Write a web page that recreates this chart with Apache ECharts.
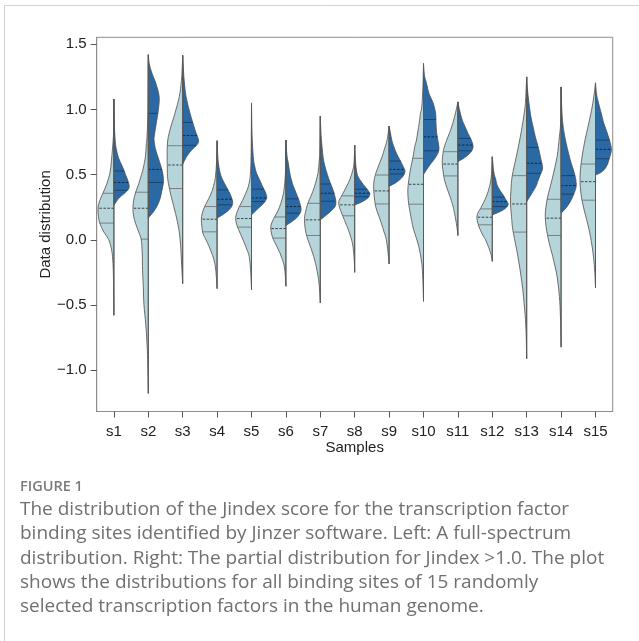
<!DOCTYPE html>
<html>
<head>
<meta charset="utf-8">
<script src="https://cdn.jsdelivr.net/npm/echarts@6.0.0/dist/echarts.min.js"></script>
<style>
html,body{margin:0;padding:0;background:#fff;}
#main{width:639px;height:641px;}
</style>
</head>
<body>
<div id="main"></div>
<script>
// ---------------- DATA ----------------
const categories = ['s1','s2','s3','s4','s5','s6','s7','s8','s9','s10','s11','s12','s13','s14','s15'];
const yTicks = [-1.0, -0.5, 0.0, 0.5, 1.0, 1.5];

// Left half: full-spectrum distribution. Profile of [value, relative density], top to bottom.
const leftDensity = [
  [[1.08,0],[0.85,0.3],[0.765,0.7],[0.69,1.5],[0.6,2.5],[0.51,4],[0.43,7],[0.36,10.7],[0.3,14],[0.245,15.7],[0.18,15.3],[0.128,14],[0.06,10],[0,5],[-0.077,2.3],[-0.15,1.2],[-0.27,0.5],[-0.58,0]],
  [[1.42,0],[1.0,0.3],[0.8,1.2],[0.73,2],[0.64,2.8],[0.55,5],[0.5,6.7],[0.43,9.5],[0.36,12.7],[0.3,14.5],[0.24,15.2],[0.18,14.5],[0.128,12.7],[0.06,9.5],[0,7],[-0.1,6],[-0.23,5.7],[-0.35,5],[-0.5,4.3],[-0.65,2.5],[-0.84,1],[-1.0,0.4],[-1.18,0]],
  [[1.415,0],[1.3,0.6],[1.22,1.3],[1.1,3.3],[0.97,7.7],[0.84,12.7],[0.75,15],[0.65,15.4],[0.55,15.2],[0.46,14.7],[0.33,11.3],[0.2,7],[0.077,3.7],[-0.05,2],[-0.2,1],[-0.337,0]],
  [[0.76,0],[0.6,0.5],[0.48,1.7],[0.43,3],[0.38,4.7],[0.32,8],[0.255,12.3],[0.2,14.8],[0.153,15.6],[0.1,15],[0.05,14],[0,11],[-0.05,8],[-0.12,4.5],[-0.18,2.3],[-0.26,1],[-0.375,0]],
  [[1.05,0],[0.7,0.3],[0.55,0.8],[0.46,1.7],[0.4,3.5],[0.357,5.7],[0.3,9],[0.25,12.3],[0.2,14.8],[0.166,15.7],[0.12,14.8],[0.077,12.7],[0.02,9.5],[-0.026,7],[-0.08,4.3],[-0.128,2.3],[-0.22,1],[-0.383,0]],
  [[0.765,0],[0.55,0.3],[0.45,1],[0.36,2.3],[0.28,5],[0.22,8],[0.178,11],[0.13,14],[0.09,15],[0.04,14],[0,12.3],[-0.05,9],[-0.1,6],[-0.15,3.5],[-0.2,1.7],[-0.27,0.6],[-0.357,0]],
  [[0.949,0],[0.7,0.4],[0.61,1],[0.51,2.3],[0.41,5.7],[0.34,9],[0.28,12.3],[0.2,15],[0.153,15.6],[0.09,15],[0.026,13.3],[-0.077,8.7],[-0.18,4.7],[-0.306,1.7],[-0.4,0.6],[-0.485,0]],
  [[0.727,0],[0.6,0.6],[0.54,1.7],[0.46,5],[0.38,10],[0.337,13],[0.293,15.7],[0.25,15],[0.18,11.7],[0.12,8.5],[0.077,6.3],[0.01,3.5],[-0.05,1.7],[-0.15,0.5],[-0.25,0]],
  [[0.872,0],[0.765,2],[0.7,4.5],[0.637,7],[0.536,12],[0.47,14.5],[0.408,15.3],[0.34,14.8],[0.255,13.3],[0.19,10.5],[0.128,7.7],[0.06,5],[0,2.7],[-0.1,1],[-0.186,0]],
  [[1.352,0],[1.15,0.7],[1.02,1.7],[0.97,3],[0.893,4.3],[0.765,7],[0.714,8.7],[0.637,10.3],[0.536,13],[0.46,14.5],[0.383,15.5],[0.3,15],[0.23,13.7],[0.15,11.8],[0.077,9.7],[-0.05,4.7],[-0.18,1.7],[-0.3,0.7],[-0.472,0]],
  [[1.058,0],[0.943,3.3],[0.84,7.3],[0.74,12.3],[0.676,14.5],[0.587,15.5],[0.52,14.5],[0.46,13.3],[0.39,10.5],[0.33,7.7],[0.27,5.3],[0.204,3.3],[0.1,1],[0.033,0]],
  [[0.637,0],[0.5,0.8],[0.41,2.7],[0.33,6],[0.25,11],[0.21,14],[0.171,15.3],[0.12,14],[0.077,12],[0.03,9],[0,6.7],[-0.077,2.7],[-0.12,1],[-0.166,0]],
  [[1.25,0],[1.15,0.6],[1.046,1.3],[0.943,3],[0.79,6.3],[0.637,10.3],[0.49,14.3],[0.38,15.6],[0.28,16],[0.18,15],[0.077,13.7],[-0.128,8.7],[-0.33,4.7],[-0.535,2],[-0.69,0.7],[-0.913,0]],
  [[1.173,0],[0.9,0.5],[0.79,1.7],[0.637,4],[0.484,8.3],[0.4,11],[0.33,13.3],[0.25,15],[0.178,15.7],[0.1,14.8],[0.03,13.3],[-0.05,11],[-0.128,8.3],[-0.28,4],[-0.434,1.7],[-0.6,0.6],[-0.824,0]],
  [[1.204,0],[1.12,1.3],[1.02,3.3],[0.893,6.7],[0.74,11],[0.58,14.3],[0.446,15.3],[0.3,13.3],[0.153,8.7],[0.026,5],[-0.128,2],[-0.25,0.7],[-0.37,0]]
];

// Right half: partial distribution (Jindex > 1.0). Profile of [value, relative density], top to bottom.
const rightDensity = [
  [[1.08,0],[0.9,0.4],[0.77,1.2],[0.7,2.3],[0.63,4.5],[0.56,8.5],[0.5,11.5],[0.45,14],[0.4,15],[0.36,11],[0.32,5],[0.265,0]],
  [[1.42,0],[1.35,1],[1.28,3.5],[1.2,7.5],[1.1,10.7],[1.0,10],[0.9,8],[0.8,6],[0.765,5.7],[0.7,7],[0.6,11],[0.52,14],[0.45,15],[0.38,13.5],[0.3,11],[0.23,6.5],[0.166,0]],
  [[1.415,0],[1.3,0.8],[1.22,1.5],[1.1,3.3],[0.97,7.3],[0.84,12.3],[0.76,15.7],[0.72,13],[0.69,9],[0.64,4],[0.58,0]],
  [[0.76,0],[0.65,0.6],[0.587,1.3],[0.53,2.5],[0.48,4.3],[0.43,7.5],[0.38,11],[0.33,14],[0.28,15.4],[0.24,13],[0.2,7],[0.166,0]],
  [[1.05,0],[0.8,0.6],[0.64,1.7],[0.57,3],[0.51,5],[0.46,8],[0.408,11],[0.36,14],[0.32,15],[0.28,12],[0.24,6.5],[0.19,0]],
  [[0.765,0],[0.65,1],[0.59,2.3],[0.53,3.5],[0.48,4.7],[0.43,6.5],[0.38,9],[0.3,13],[0.23,15],[0.18,12],[0.14,6],[0.11,0]],
  [[0.949,0],[0.8,0.8],[0.69,2],[0.62,3],[0.56,4.7],[0.5,7],[0.434,10],[0.36,13.5],[0.268,15.3],[0.21,9],[0.153,0]],
  [[0.727,0],[0.6,0.8],[0.53,1.8],[0.484,3.3],[0.44,7],[0.41,10],[0.37,14],[0.35,15],[0.32,13],[0.29,7],[0.268,0]],
  [[0.872,0],[0.82,1.3],[0.76,2.8],[0.714,4.7],[0.66,7.5],[0.612,10.7],[0.56,14],[0.523,15.7],[0.48,13],[0.44,7],[0.41,0]],
  [[1.352,0],[1.26,1],[1.2,3],[1.12,5.5],[1.05,9.5],[0.97,12],[0.9,12.3],[0.82,13],[0.75,14.5],[0.69,15.2],[0.637,12.3],[0.56,5],[0.5,0]],
  [[1.058,0],[1.0,1.5],[0.918,4.3],[0.87,7],[0.816,10],[0.77,13],[0.714,15],[0.67,12.5],[0.63,6.5],[0.6,0]],
  [[0.637,0],[0.52,1.5],[0.46,3.5],[0.42,4.7],[0.38,7.5],[0.344,10.7],[0.3,14],[0.268,15.7],[0.23,11],[0.19,0]],
  [[1.25,0],[1.15,0.8],[1.046,2.3],[0.95,4],[0.867,6.3],[0.79,8.5],[0.714,11.3],[0.62,14],[0.548,15.7],[0.5,13.5],[0.45,11],[0.408,9],[0.33,3],[0.293,0]],
  [[1.173,0],[1.0,0.7],[0.893,1.7],[0.82,3],[0.74,5],[0.66,7.5],[0.587,10],[0.5,13.5],[0.42,15],[0.36,13],[0.306,10],[0.25,5.5],[0.204,0]],
  [[1.204,0],[1.12,1],[1.07,2.3],[0.97,5.7],[0.9,8],[0.84,10.7],[0.76,14],[0.69,15.7],[0.62,13.5],[0.56,10.7],[0.52,6],[0.497,0]]
];

// Quartiles [Q3, median, Q1]
const leftQuartiles = [
  [0.357,0.242,0.128],[0.365,0.242,0.005],[0.722,0.574,0.393],[0.255,0.158,0.061],[0.255,0.163,0.097],
  [0.175,0.086,0.013],[0.28,0.153,0.033],[0.337,0.268,0.184],[0.497,0.375,0.275],[0.625,0.426,0.273],
  [0.676,0.581,0.49],[0.237,0.173,0.115],[0.492,0.275,0.059],[0.311,0.166,0.033],[0.581,0.446,0.304]
];
const rightQuartiles = [
  [0.528,0.44,0.38],[0.97,0.54,0.44],[0.90,0.80,0.725],[0.383,0.311,0.268],[0.388,0.321,0.293],
  [0.314,0.255,0.204],[0.428,0.357,0.296],[0.388,0.357,0.33],[0.604,0.54,0.505],[0.923,0.79,0.683],
  [0.778,0.727,0.683],[0.327,0.293,0.255],[0.709,0.587,0.51],[0.492,0.416,0.35],[0.765,0.694,0.622]
];

const captionTitle = 'FIGURE 1';
const captionLines = [
  'The distribution of the Jindex score for the transcription factor',
  'binding sites identified by Jinzer software. Left: A full-spectrum',
  'distribution. Right: The partial distribution for Jindex >1.0. The plot',
  'shows the distributions for all binding sites of 15 randomly',
  'selected transcription factors in the human genome.'
];

// ---------------- RENDERING ----------------
const LEFT_FILL = '#b6d5db', RIGHT_FILL = '#2b69a5', OUTLINE = '#4d4d4d';
const DENSITY_REF = 17.0; // density value that spans a full half band

function widthAt(prof, v) {
  for (let j = 0; j < prof.length - 1; j++) {
    const a = prof[j], b = prof[j + 1];
    if (v <= a[0] && v >= b[0]) {
      const t = (a[0] - v) / (a[0] - b[0] || 1);
      return a[1] + (b[1] - a[1]) * t;
    }
  }
  return 0;
}

function splinePath(pts, cx) {
  let s = 'M ' + cx + ' ' + pts[0][1];
  for (let j = 0; j < pts.length - 1; j++) {
    const p0 = pts[j - 1] || pts[j], p1 = pts[j], p2 = pts[j + 1], p3 = pts[j + 2] || pts[j + 1];
    const c1x = p1[0] + (p2[0] - p0[0]) / 6, c1y = p1[1] + (p2[1] - p0[1]) / 6;
    const c2x = p2[0] - (p3[0] - p1[0]) / 6, c2y = p2[1] - (p3[1] - p1[1]) / 6;
    s += ' C ' + c1x + ' ' + c1y + ' ' + c2x + ' ' + c2y + ' ' + p2[0] + ' ' + p2[1];
  }
  s += ' L ' + cx + ' ' + pts[pts.length - 1][1] + ' Z';
  return s;
}

function renderItem(params, api) {
  const i = api.value(0);
  const cx = api.coord([i, 0])[0];
  const half = api.size([1, 0])[0] / 2;
  const k = half / DENSITY_REF;
  const children = [];
  const sides = [
    {prof: leftDensity[i], q: leftQuartiles[i], sgn: -1, fill: LEFT_FILL, qc: '#6a6a6a', mc: '#2e2e2e'},
    {prof: rightDensity[i], q: rightQuartiles[i], sgn: 1, fill: RIGHT_FILL, qc: '#173a60', mc: '#0b2038'}
  ];
  sides.forEach(sd => {
    const pts = sd.prof.map(p => [cx + sd.sgn * p[1] * k, api.coord([i, p[0]])[1]]);
    children.push({
      type: 'path',
      shape: {pathData: splinePath(pts, cx)},
      style: {fill: sd.fill, stroke: OUTLINE, lineWidth: 0.8}
    });
    sd.q.forEach((qv, qi) => {
      const w = widthAt(sd.prof, qv) * k;
      const y = api.coord([i, qv])[1];
      children.push({
        type: 'line',
        shape: {x1: cx, y1: y, x2: cx + sd.sgn * w, y2: y},
        style: qi === 1
          ? {stroke: sd.mc, lineWidth: 0.9, lineDash: [2.5, 1.5]}
          : {stroke: sd.qc, lineWidth: 0.8}
      });
    });
  });
  const lp = leftDensity[i], rp = rightDensity[i];
  const top = Math.max(lp[0][0], rp[0][0]);
  const bot = Math.min(lp[lp.length - 1][0], rp[rp.length - 1][0]);
  children.push({
    type: 'line',
    shape: {x1: cx, y1: api.coord([i, top])[1], x2: cx, y2: api.coord([i, bot])[1]},
    style: {stroke: '#5a5a5a', lineWidth: 1}
  });
  return {type: 'group', children: children};
}

const chart = echarts.init(document.getElementById('main'), null, {renderer: 'canvas'});
const axisFont = '"Liberation Sans", Arial, sans-serif';
const graphics = [
  {type: 'rect', shape: {x: 4.5, y: 5.5, width: 700, height: 700}, style: {fill: 'none', stroke: '#d2d2d2', lineWidth: 1}, z: 0},
  {type: 'text', x: 20, y: 487, style: {text: captionTitle, fill: '#7a7a7a', font: '600 14.5px "Open Sans", sans-serif', verticalAlign: 'middle'}}
];
captionLines.forEach((t, j) => {
  graphics.push({type: 'text', x: 20, y: 509.5 + j * 24.3, style: {text: t, fill: '#707070', font: '19px "Open Sans", sans-serif', verticalAlign: 'middle'}});
});

chart.setOption({
  animation: false,
  grid: {left: 96.7, top: 37.3, right: 26.3, bottom: 229.5, show: true, borderColor: '#8c8c8c', borderWidth: 1, backgroundColor: 'transparent'},
  xAxis: {
    type: 'category', data: categories, boundaryGap: true,
    axisLine: {show: true, onZero: false, lineStyle: {color: '#8c8c8c'}},
    axisTick: {show: true, alignWithLabel: true, length: 6, lineStyle: {color: '#555'}},
    axisLabel: {interval: 0, fontFamily: axisFont, fontSize: 15, color: '#222', margin: 13},
    splitLine: {show: false},
    name: 'Samples', nameLocation: 'middle', nameGap: 29, nameMoveOverlap: false,
    nameTextStyle: {fontFamily: axisFont, fontSize: 15, color: '#222'}
  },
  yAxis: {
    type: 'value', min: -1.318, max: 1.554,
    axisLine: {show: true, onZero: false, lineStyle: {color: '#8c8c8c'}},
    axisTick: {show: true, length: 6, customValues: yTicks, lineStyle: {color: '#555'}},
    axisLabel: {customValues: yTicks, fontFamily: axisFont, fontSize: 15, color: '#222', margin: 10,
      formatter: v => (v < 0 ? '\u2212' : '') + Math.abs(v).toFixed(1)},
    splitLine: {show: false},
    name: 'Data distribution', nameLocation: 'middle', nameGap: 43, nameRotate: 90, nameMoveOverlap: false,
    nameTextStyle: {fontFamily: axisFont, fontSize: 15, color: '#222'}
  },
  graphic: graphics,
  series: [{
    type: 'custom',
    renderItem: renderItem,
    clip: false,
    encode: {x: 0},
    data: categories.map((c, i) => [i])
  }]
});
</script>
</body>
</html>
